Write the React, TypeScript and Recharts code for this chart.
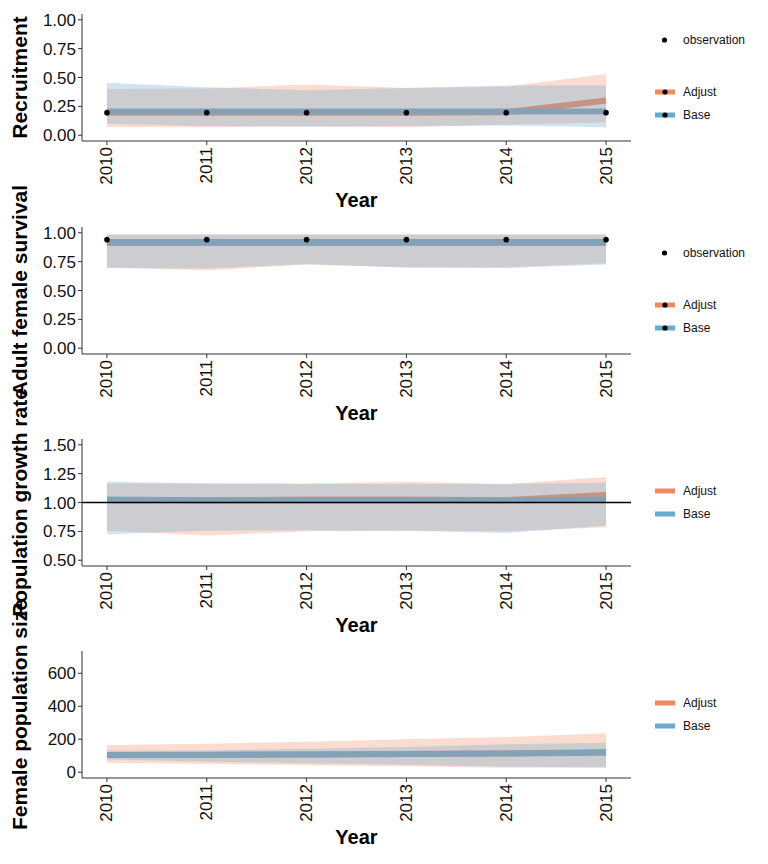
import {
  ComposedChart,
  Area,
  Line,
  XAxis,
  YAxis,
  ReferenceLine,
} from "recharts";

const years: number[] = [2010, 2011, 2012, 2013, 2014, 2015];
const yearTicks: number[] = [2010, 2011, 2012, 2013, 2014, 2015];

// Recruitment
const recObs: number[] = [0.195, 0.195, 0.195, 0.195, 0.195, 0.195];
const recBase: number[] = [0.205, 0.205, 0.205, 0.205, 0.205, 0.205];
const recAdjust: number[] = [0.195, 0.195, 0.195, 0.195, 0.2, 0.3];
const recBaseLo: number[] = [0.1, 0.08, 0.075, 0.08, 0.085, 0.07];
const recBaseHi: number[] = [0.455, 0.415, 0.39, 0.41, 0.43, 0.43];
const recAdjLo: number[] = [0.072, 0.07, 0.075, 0.07, 0.09, 0.11];
const recAdjHi: number[] = [0.4, 0.405, 0.44, 0.41, 0.42, 0.53];
const recTicks: number[] = [0, 0.25, 0.5, 0.75, 1];

// Adult female survival
const survObs: number[] = [0.94, 0.94, 0.94, 0.94, 0.94, 0.94];
const survBase: number[] = [0.92, 0.92, 0.92, 0.92, 0.92, 0.92];
const survAdjust: number[] = [0.912, 0.912, 0.912, 0.912, 0.912, 0.912];
const survBaseLo: number[] = [0.695, 0.69, 0.73, 0.7, 0.695, 0.725];
const survBaseHi: number[] = [0.985, 0.985, 0.985, 0.985, 0.985, 0.985];
const survAdjLo: number[] = [0.7, 0.675, 0.725, 0.7, 0.7, 0.735];
const survAdjHi: number[] = [0.985, 0.985, 0.985, 0.985, 0.985, 0.985];
const survTicks: number[] = [0, 0.25, 0.5, 0.75, 1];

// Population growth rate
const growBase: number[] = [1.025, 1.02, 1.02, 1.02, 1.02, 1.025];
const growAdjust: number[] = [1.02, 1.02, 1.025, 1.025, 1.02, 1.065];
const growBaseLo: number[] = [0.725, 0.755, 0.76, 0.755, 0.735, 0.8];
const growBaseHi: number[] = [1.18, 1.165, 1.16, 1.16, 1.16, 1.17];
const growAdjLo: number[] = [0.755, 0.715, 0.75, 0.755, 0.75, 0.785];
const growAdjHi: number[] = [1.165, 1.165, 1.165, 1.18, 1.16, 1.22];
const growTicks: number[] = [0.5, 0.75, 1, 1.25, 1.5];

// Female population size
const popBase: number[] = [105, 106, 108, 110, 113, 118];
const popAdjust: number[] = [104, 105, 107, 110, 114, 122];
const popBaseLo: number[] = [77, 63, 55, 45, 33, 30];
const popBaseHi: number[] = [132, 132, 143, 153, 169, 179];
const popAdjLo: number[] = [57, 50, 43, 37, 27, 27];
const popAdjHi: number[] = [165, 173, 185, 200, 213, 236];
const popTicks: number[] = [0, 200, 400, 600];

const ADJUST = "#EF8A62";
const BASE = "#67A9CF";
const FONT = "'Liberation Sans', Arial, sans-serif";

type Row = {
  year: number;
  base: number;
  adjust: number;
  baseBand: number[];
  adjBand: number[];
  obs?: number;
};

const buildRows = (
  base: number[],
  adjust: number[],
  baseLo: number[],
  baseHi: number[],
  adjLo: number[],
  adjHi: number[],
  obs?: number[]
): Row[] =>
  years.map((year, i) => ({
    year,
    base: base[i],
    adjust: adjust[i],
    baseBand: [baseLo[i], baseHi[i]],
    adjBand: [adjLo[i], adjHi[i]],
    obs: obs ? obs[i] : undefined,
  }));

type PanelProps = {
  top: number;
  title: string;
  data: Row[];
  domain: [number, number];
  ticks: number[];
  fmt: (v: number) => string;
  withObs: boolean;
  refLine?: number;
};

const XTick = (props: any) => {
  const { x, y, payload } = props;
  return (
    <text
      x={x}
      y={y}
      transform={`rotate(-90, ${x}, ${y})`}
      textAnchor="end"
      dominantBaseline="central"
      fontSize={17}
      fontFamily={FONT}
      fill="#111"
    >
      {payload.value}
    </text>
  );
};

const Panel = ({ top, title, data, domain, ticks, fmt, withObs, refLine }: PanelProps) => {
  const legendTop = withObs ? 0 : -26;
  return (
    <div style={{ position: "absolute", left: 0, top }}>
      <ComposedChart
        width={640}
        height={212}
        data={data}
        margin={{ top: 14, right: 9, bottom: 0, left: 0 }}
      >
        <XAxis
          dataKey="year"
          type="number"
          domain={[2009.75, 2015.25]}
          ticks={yearTicks}
          allowDataOverflow
          height={71}
          tickSize={4}
          stroke="#333"
          tick={<XTick />}
          label={(p: any) => {
            const vb = p.viewBox;
            return (
              <text
                x={vb.x + vb.width / 2}
                y={vb.y + 66}
                textAnchor="middle"
                fontSize={20}
                fontWeight="bold"
                fontFamily={FONT}
                fill="#000"
              >
                Year
              </text>
            );
          }}
        />
        <YAxis
          type="number"
          domain={domain}
          ticks={ticks}
          allowDataOverflow
          width={82}
          tickSize={4}
          stroke="#333"
          tickFormatter={fmt}
          tick={{ fontSize: 17, fontFamily: FONT, fill: "#111" }}
          label={(p: any) => {
            const vb = p.viewBox;
            const cx = 27;
            const cy = vb.y + vb.height / 2;
            return (
              <text
                x={cx}
                y={cy}
                transform={`rotate(-90, ${cx}, ${cy})`}
                textAnchor="middle"
                fontSize={21}
                fontWeight="bold"
                fontFamily={FONT}
                fill="#000"
              >
                {title}
              </text>
            );
          }}
        />
        <Line
          dataKey="adjust"
          type="linear"
          stroke={ADJUST}
          strokeWidth={6}
          dot={false}
          zIndex={50}
          isAnimationActive={false}
        />
        <Line
          dataKey="base"
          type="linear"
          stroke={BASE}
          strokeWidth={6}
          dot={false}
          zIndex={60}
          isAnimationActive={false}
        />
        <Area
          dataKey="adjBand"
          type="linear"
          fill={ADJUST}
          fillOpacity={0.3}
          stroke="none"
          isAnimationActive={false}
        />
        <Area
          dataKey="baseBand"
          type="linear"
          fill={BASE}
          fillOpacity={0.3}
          stroke="none"
          isAnimationActive={false}
        />
        {refLine !== undefined && (
          <ReferenceLine y={refLine} stroke="#000" strokeWidth={1.3} />
        )}
        {withObs && (
          <Line
            dataKey="obs"
            type="linear"
            stroke="none"
            dot={{ r: 2.6, fill: "#000", stroke: "#000", strokeWidth: 0.5 }}
            isAnimationActive={false}
          />
        )}
      </ComposedChart>
      <svg
        width={128}
        height={140}
        style={{ position: "absolute", left: 640, top: 0, overflow: "visible" }}
      >
        {withObs && (
          <g>
            <circle cx={24.5} cy={40} r={2.6} fill="#000" />
            <text x={43} y={40} dominantBaseline="central" fontSize={12} fontFamily={FONT} fill="#111">
              observation
            </text>
          </g>
        )}
        {[
          { name: "Adjust", color: ADJUST, y: 92 + legendTop },
          { name: "Base", color: BASE, y: 115 + legendTop },
        ].map((item) => (
          <g key={item.name}>
            <line x1={15} x2={35} y1={item.y} y2={item.y} stroke={item.color} strokeWidth={5} />
            {withObs && <circle cx={25} cy={item.y} r={2.6} fill="#000" />}
            <text x={43} y={item.y} dominantBaseline="central" fontSize={12} fontFamily={FONT} fill="#111">
              {item.name}
            </text>
          </g>
        ))}
      </svg>
    </div>
  );
};

const fmt2 = (v: number) => v.toFixed(2);
const fmt0 = (v: number) => String(v);

const App = () => {
  return (
    <div
      style={{
        position: "absolute",
        left: 0,
        top: 0,
        width: 768,
        height: 864,
        background: "#fff",
        fontFamily: FONT,
      }}
    >
      <style>{`.recharts-surface{overflow:visible}`}</style>
      <Panel
        top={0}
        title="Recruitment"
        data={buildRows(recBase, recAdjust, recBaseLo, recBaseHi, recAdjLo, recAdjHi, recObs)}
        domain={[-0.05, 1.05]}
        ticks={recTicks}
        fmt={fmt2}
        withObs
      />
      <Panel
        top={213}
        title="Adult female survival"
        data={buildRows(survBase, survAdjust, survBaseLo, survBaseHi, survAdjLo, survAdjHi, survObs)}
        domain={[-0.05, 1.05]}
        ticks={survTicks}
        fmt={fmt2}
        withObs
      />
      <Panel
        top={425}
        title="Population growth rate"
        data={buildRows(growBase, growAdjust, growBaseLo, growBaseHi, growAdjLo, growAdjHi)}
        domain={[0.45, 1.55]}
        ticks={growTicks}
        fmt={fmt2}
        withObs={false}
        refLine={1}
      />
      <Panel
        top={637}
        title="Female population size"
        data={buildRows(popBase, popAdjust, popBaseLo, popBaseHi, popAdjLo, popAdjHi)}
        domain={[-35, 735]}
        ticks={popTicks}
        fmt={fmt0}
        withObs={false}
      />
    </div>
  );
};

export default App;
